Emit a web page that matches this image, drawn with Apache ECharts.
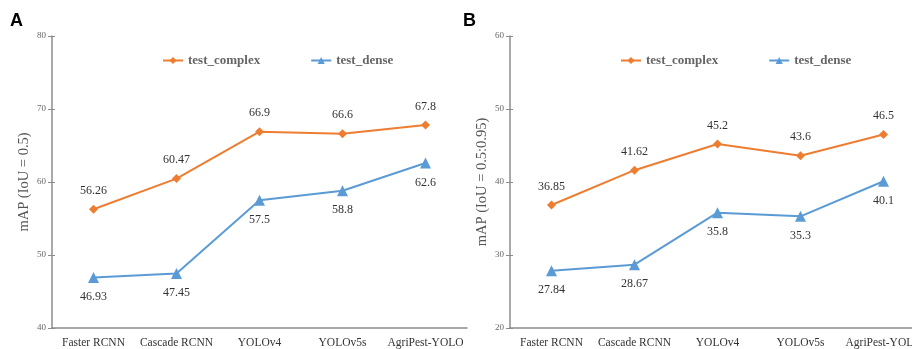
<!DOCTYPE html>
<html><head><meta charset="utf-8">
<script src="https://cdn.jsdelivr.net/npm/echarts@6/dist/echarts.min.js"></script>
<style>html,body{margin:0;padding:0;background:#fff;overflow:hidden;width:912px;height:349px}#c{width:926px;height:349px}</style>
</head><body><div id="c"></div>
<script>
const categories = ['Faster RCNN', 'Cascade RCNN', 'YOLOv4', 'YOLOv5s', 'AgriPest-YOLO'];
const complexA = [56.26, 60.47, 66.9, 66.6, 67.8];
const denseA = [46.93, 47.45, 57.5, 58.8, 62.6];
const complexB = [36.85, 41.62, 45.2, 43.6, 46.5];
const denseB = [27.84, 28.67, 35.8, 35.3, 40.1];
const yTicksA = [40, 80, 10];
const yTicksB = [20, 60, 10];

const ORANGE = '#ED7D31', BLUE = '#5B9BD5';
const serif = '"Liberation Serif","DejaVu Serif",serif';

const chart = echarts.init(document.getElementById('c'));
function xAxis(i){
  return {type:'category', gridIndex:i, data:categories, boundaryGap:true,
    axisLine:{lineStyle:{color:'#8c8c8c', width:1.5}}, axisTick:{show:false},
    axisLabel:{fontFamily:serif, fontSize:11.5, color:'#333', margin:9, interval:0}};
}
function yAxis(i, t, name){
  return {type:'value', gridIndex:i, position:'left', min:t[0], max:t[1], interval:t[2],
    name:name, nameLocation:'middle', nameGap:20, nameRotate:90,
    nameTextStyle:{fontFamily:serif, fontSize:14.5, color:'#555'},
    axisLine:{show:true, lineStyle:{color:'#8c8c8c', width:1.5}},
    axisTick:{show:true, length:4, lineStyle:{color:'#8c8c8c'}},
    splitLine:{show:false},
    axisLabel:{fontFamily:serif, fontSize:9, color:'#666', margin:6}};
}
function yAxisIn(i, t){
  return {type:'value', gridIndex:i, position:'left', min:t[0], max:t[1], interval:t[2],
    axisLine:{show:false}, axisTick:{show:true, inside:true, length:3, lineStyle:{color:'#8c8c8c'}},
    splitLine:{show:false}, axisLabel:{show:false}};
}
function series(name, data, xi, yi, color, symbol, pos){
  return {name:name, type:'line', xAxisIndex:xi, yAxisIndex:yi, data:data,
    symbol:symbol, symbolSize: symbol==='diamond'?9:11, lineStyle:{color:color, width:2},
    itemStyle:{color:color}, color:color,
    label:{show:true, position:pos, distance:8, fontFamily:serif, fontSize:12, color:'#333'}};
}
const legendStyle = {fontFamily:serif, fontSize:13, fontWeight:'bold', color:'#666'};
chart.setOption({
  animation:false,
  graphic:[
    {type:'text', left:10, top:12, style:{text:'A', font:'bold 18px "Liberation Sans",Arial,sans-serif', fill:'#000'}},
    {type:'text', left:463, top:12, style:{text:'B', font:'bold 18px "Liberation Sans",Arial,sans-serif', fill:'#000'}}
  ],
  legend:[
    {left:157, top:49, itemGap:50, itemWidth:20, itemHeight:9, textStyle:legendStyle,
     data:['test_complex','test_dense']},
    {left:615, top:49, itemGap:50, itemWidth:20, itemHeight:9, textStyle:legendStyle,
     data:['test_complex','test_dense']}
  ],
  grid:[
    {left:52, top:36, width:415, height:294},
    {left:510, top:36, width:415, height:294}
  ],
  xAxis:[xAxis(0), xAxis(1)],
  yAxis:[yAxis(0, yTicksA, 'mAP (IoU = 0.5)'), yAxis(1, yTicksB, 'mAP (IoU = 0.5:0.95)'), yAxisIn(0, yTicksA), yAxisIn(1, yTicksB)],
  series:[
    series('test_complex', complexA, 0, 0, ORANGE, 'diamond', 'top'),
    series('test_dense', denseA, 0, 0, BLUE, 'triangle', 'bottom'),
    series('test_complex', complexB, 1, 1, ORANGE, 'diamond', 'top'),
    series('test_dense', denseB, 1, 1, BLUE, 'triangle', 'bottom')
  ]
});
</script></body></html>
